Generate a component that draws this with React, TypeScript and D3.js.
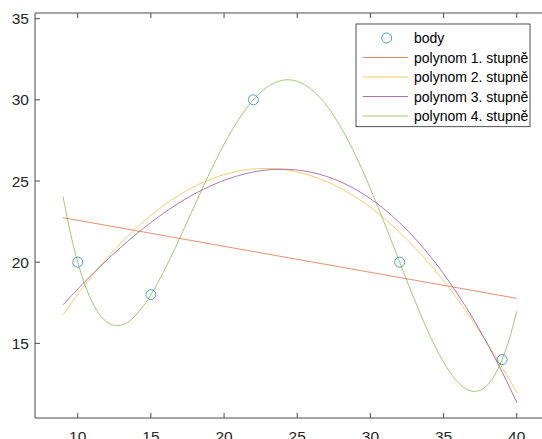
import React from "react";
import * as d3 from "d3";

const pointsX = [10, 15, 22, 32, 39];
const pointsY = [20, 18, 30, 20, 14];
const degrees = [1, 2, 3, 4];
const seriesNames = ["polynom 1. stupně", "polynom 2. stupně", "polynom 3. stupně", "polynom 4. stupně"];
const seriesColors = ["#D95319", "#EDB120", "#7E2F8E", "#77AC30"];
const xTicks = [10, 15, 20, 25, 30, 35, 40];
const yTicks = [15, 20, 25, 30, 35];
const fitRange = [9, 40];

function polyfit(xs: number[], ys: number[], deg: number) {
  const mx = d3.mean(xs) as number;
  const s = 10;
  const ts = xs.map((x) => (x - mx) / s);
  const n = deg + 1;
  const A: number[][] = [];
  for (let i = 0; i < n; i++) {
    const row: number[] = [];
    for (let j = 0; j < n; j++) row.push(d3.sum(ts, (t) => Math.pow(t, i + j)));
    row.push(d3.sum(ts.map((t, k) => Math.pow(t, i) * ys[k])));
    A.push(row);
  }
  for (let c = 0; c < n; c++) {
    let p = c;
    for (let r = c + 1; r < n; r++) if (Math.abs(A[r][c]) > Math.abs(A[p][c])) p = r;
    [A[c], A[p]] = [A[p], A[c]];
    for (let r = 0; r < n; r++) {
      if (r === c) continue;
      const f = A[r][c] / A[c][c];
      for (let k = c; k <= n; k++) A[r][k] -= f * A[c][k];
    }
  }
  const coef = A.map((row, i) => row[n] / row[i]);
  return (x: number) => {
    const t = (x - mx) / s;
    return coef.reduce((acc, c, i) => acc + c * Math.pow(t, i), 0);
  };
}

export default function App() {
  const W = 542, H = 439;
  const left = 35, top = 13, bottom = 418;
  const x = d3.scaleLinear().domain([7.08, 42.3]).range([left, 550.4]);
  const y = d3.scaleLinear().domain([10.4, 35.35]).range([bottom, top]);
  const xs = d3.range(fitRange[0], fitRange[1] + 0.0001, 0.1);
  const line = d3.line<[number, number]>().x((d) => x(d[0])).y((d) => y(d[1]));
  const axisColor = "#4d4d4d";
  const font = "Liberation Sans, Arial, Helvetica, sans-serif";
  const lx = 356, ly = 24, lw = 174, lh = 102.7;
  const rowY = (i: number) => 38 + i * 19.5;
  return (
    <svg width={W} height={H} style={{ position: "absolute", left: 0, top: 0, background: "#fff" }}>
      <rect x={0} y={0} width={W} height={H} fill="#fff" />
      {degrees.map((d, i) => {
        const f = polyfit(pointsX, pointsY, d);
        return (
          <path key={d} d={line(xs.map((v) => [v, f(v)] as [number, number])) || ""} fill="none"
            stroke={seriesColors[i]} strokeWidth={0.8} strokeOpacity={0.85} />
        );
      })}
      {pointsX.map((px, i) => (
        <circle key={i} cx={x(px)} cy={y(pointsY[i])} r={5} fill="none" stroke="#0072BD" strokeWidth={0.8} strokeOpacity={0.85} />
      ))}
      {/* axes */}
      <line x1={left} x2={W} y1={bottom} y2={bottom} stroke={axisColor} strokeWidth={1} />
      <line x1={left} x2={W} y1={top} y2={top} stroke={axisColor} strokeWidth={1} />
      <line x1={left} x2={left} y1={top} y2={bottom} stroke={axisColor} strokeWidth={1} />
      {xTicks.map((t) => (
        <g key={t}>
          <line x1={x(t)} x2={x(t)} y1={bottom} y2={bottom - 5} stroke={axisColor} />
          <line x1={x(t)} x2={x(t)} y1={top} y2={top + 5} stroke={axisColor} />
          <text x={x(t)} y={bottom + 24} textAnchor="middle" fontFamily={font} fontSize={15.5} fill="#262626">{t}</text>
        </g>
      ))}
      {yTicks.map((t) => (
        <g key={t}>
          <line x1={left} x2={left + 5} y1={y(t)} y2={y(t)} stroke={axisColor} />
          <text x={29} y={y(t) + 5.5} textAnchor="end" fontFamily={font} fontSize={15.5} fill="#262626">{t}</text>
        </g>
      ))}
      {/* legend */}
      <rect x={lx} y={ly} width={lw} height={lh} fill="#fff" stroke="#262626" strokeWidth={0.8} />
      <circle cx={386.7} cy={rowY(0)} r={5} fill="none" stroke="#0072BD" strokeWidth={0.8} strokeOpacity={0.85} />
      <text x={414} y={rowY(0) + 5} fontFamily={font} fontSize={14} fill="#000">body</text>
      {seriesNames.map((name, i) => (
        <g key={name}>
          <line x1={362.7} x2={408} y1={rowY(i + 1)} y2={rowY(i + 1)} stroke={seriesColors[i]} strokeWidth={0.8} strokeOpacity={0.85} />
          <text x={414} y={rowY(i + 1) + 5} fontFamily={font} fontSize={14} fill="#000">{name}</text>
        </g>
      ))}
    </svg>
  );
}
